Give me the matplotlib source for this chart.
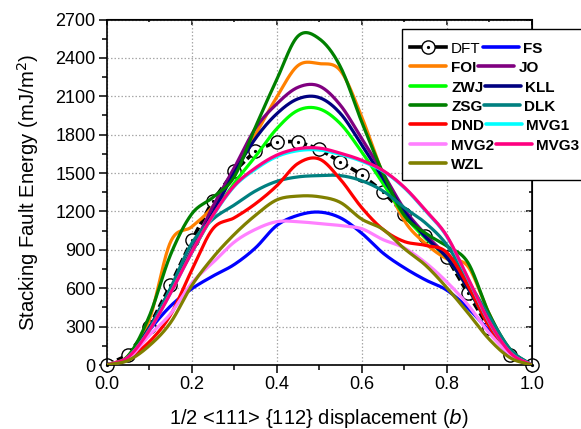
import numpy as np
import matplotlib
matplotlib.use("Agg")
import matplotlib.pyplot as plt
from matplotlib.lines import Line2D
from matplotlib.patches import Rectangle

plt.rcParams['font.family'] = ['Liberation Sans', 'DejaVu Sans']

# ---------------- data ----------------
x = [0.0, 0.05, 0.1, 0.15, 0.2, 0.25, 0.3, 0.35, 0.4, 0.45, 0.5,
     0.55, 0.6, 0.65, 0.7, 0.75, 0.8, 0.85, 0.9, 0.95, 1.0]

dft = [0, 78, 300, 623, 973, 1285, 1513, 1674, 1746, 1746, 1687,
       1588, 1487, 1355, 1183, 1011, 845, 560, 287, 78, 0]

fs   = [0, 50, 270, 460, 595, 695, 785, 915, 1090, 1170, 1195,
        1150, 1030, 875, 760, 665, 585, 445, 265, 75, 0]
foi  = [0, 70, 350, 960, 1080, 1240, 1500, 1800, 2093, 2340, 2355,
        2300, 1940, 1490, 1130, 950, 830, 770, 400, 90, 0]
jo   = [0, 60, 290, 590, 900, 1240, 1540, 1850, 2040, 2170, 2180,
        2030, 1770, 1500, 1220, 1020, 850, 620, 320, 90, 0]
zwj  = [0, 60, 290, 590, 880, 1170, 1420, 1630, 1846, 1990, 2002,
        1885, 1665, 1420, 1170, 990, 840, 600, 310, 90, 0]
kll  = [0, 60, 290, 590, 880, 1190, 1500, 1770, 1963, 2080, 2090,
        1965, 1720, 1460, 1200, 1000, 840, 600, 310, 90, 0]
zsg  = [0, 70, 380, 860, 1180, 1310, 1470, 1860, 2230, 2570, 2550,
        2330, 1900, 1500, 1170, 1030, 930, 800, 400, 120, 0]
dlk  = [0, 60, 280, 600, 950, 1140, 1250, 1360, 1435, 1470, 1480,
        1480, 1440, 1360, 1230, 1110, 940, 660, 380, 120, 0]
dnd  = [0, 55, 180, 390, 740, 1065, 1150, 1260, 1400, 1575, 1610,
        1450, 1230, 1060, 965, 935, 880, 620, 300, 85, 0]
mvg1 = [0, 60, 270, 560, 880, 1165, 1395, 1530, 1628, 1675, 1680,
        1645, 1592, 1515, 1385, 1205, 1005, 675, 335, 95, 0]
mvg2 = [0, 50, 230, 400, 640, 800, 960, 1060, 1120, 1120, 1105,
        1090, 1065, 980, 915, 800, 650, 470, 250, 80, 0]
mvg3 = [0, 60, 270, 560, 880, 1170, 1400, 1540, 1640, 1690, 1695,
        1655, 1600, 1520, 1390, 1210, 1010, 680, 340, 95, 0]
wzl  = [0, 35, 150, 330, 620, 840, 1020, 1170, 1290, 1320, 1315,
        1270, 1140, 1060, 910, 780, 605, 407, 201, 55, 0]

names  = ['FS', 'FOI', 'JO', 'ZWJ', 'KLL', 'ZSG', 'DLK', 'DND',
          'MVG1', 'MVG2', 'MVG3', 'WZL']
series = [fs, foi, jo, zwj, kll, zsg, dlk, dnd, mvg1, mvg2, mvg3, wzl]
colors = ['#0000FF', '#FF8000', '#800080', '#00FF00', '#000080', '#008000',
          '#008080', '#FF0000', '#00FFFF', '#FF80FF', '#FF0080', '#808000']

# legend rows as in the reference (two entries per row)
legend_rows = [('DFT', 'FS'), ('FOI', 'JO'), ('ZWJ', 'KLL'), ('ZSG', 'DLK'),
               ('DND', 'MVG1'), ('MVG2', 'MVG3'), ('WZL', None)]

x_ticks = [0.0, 0.2, 0.4, 0.6, 0.8, 1.0]
y_ticks = [0, 300, 600, 900, 1200, 1500, 1800, 2100, 2400, 2700]


def smooth(xs, ys, n=24):
    """Catmull-Rom curve through the given points (line rendering only)."""
    xs = np.asarray(xs, float)
    ys = np.asarray(ys, float)
    yp = np.concatenate([[2 * ys[0] - ys[1]], ys, [2 * ys[-1] - ys[-2]]])
    t = np.linspace(0, 1, n, endpoint=False)
    ox, oy = [], []
    for i in range(len(xs) - 1):
        p0, p1, p2, p3 = yp[i:i + 4]
        ox.append(xs[i] + t * (xs[i + 1] - xs[i]))
        oy.append(0.5 * (2 * p1 + (-p0 + p2) * t
                         + (2 * p0 - 5 * p1 + 4 * p2 - p3) * t ** 2
                         + (-p0 + 3 * p1 - 3 * p2 + p3) * t ** 3))
    ox.append([xs[-1]])
    oy.append([ys[-1]])
    return np.concatenate(ox), np.concatenate(oy)


W, H = 581, 429
fig = plt.figure(figsize=(W / 100, H / 100), dpi=100)
ax = fig.add_axes([106.7 / W, 1 - 365 / H, 425 / W, 345.5 / H])

color_of = dict(zip(names, colors))
for name, ys, c in zip(names, series, colors):
    sx, sy = smooth(x, ys)
    ax.plot(sx, sy, color=c, lw=2.3, solid_capstyle='round', zorder=3)

# DFT (drawn beneath the model curves)
ax.plot(x, dft, color='black', lw=2.6, dashes=(2.2, 1.0),
        marker='o', ms=9.5, mfc='white', mec='black', mew=1.0,
        zorder=2, clip_on=False)
ax.plot(x, dft, ls='none', marker='o', ms=1.3, color='black',
        zorder=2.1, clip_on=False)

ax.set_xlim(0, 1.0)
ax.set_ylim(0, 2700)
ax.set_xticks(x_ticks)
ax.set_xticklabels(['%.1f' % v for v in x_ticks])
ax.set_yticks(y_ticks)
ax.set_xticks(np.arange(0.1, 1.0, 0.2), minor=True)
ax.set_yticks(np.arange(150, 2700, 300), minor=True)
ax.grid(True, which='major', color='#a8a8a8', ls=(0, (1.2, 1.6)), lw=0.9)
ax.set_axisbelow(True)

ax.tick_params(axis='both', which='major', direction='out', length=6,
               width=1.1, labelsize=13, pad=2)
ax.tick_params(axis='both', which='minor', direction='out', length=3.5,
               width=1.1)
for s in ax.spines.values():
    s.set_linewidth(1.2)

# mirrored inward ticks on top and right
secx = ax.secondary_xaxis('top')
secx.set_xticks(x_ticks)
secx.set_xticks(np.arange(0.1, 1.0, 0.2), minor=True)
secx.tick_params(which='major', direction='in', length=4, width=1.1,
                 labeltop=False)
secx.tick_params(which='minor', direction='in', length=2.5, width=1.1)
secy = ax.secondary_yaxis('right')
secy.set_yticks(y_ticks)
secy.set_yticks(np.arange(150, 2700, 300), minor=True)
secy.tick_params(which='major', direction='in', length=4, width=1.1,
                 labelright=False)
secy.tick_params(which='minor', direction='in', length=2.5, width=1.1)

ax.set_ylabel('Stacking Fault Energy (mJ/m$^2$)', fontsize=14.6, labelpad=10)
ax.set_xlabel('1/2 <111> {112} displacement ($\\mathit{b}$)', fontsize=14.5,
              labelpad=10)

# ---------------- legend (flowing rows, like the original) ----------------
def fx(px):
    return px / W


def fy(py):
    return 1 - py / H


frame = Rectangle((fx(401.7), fy(180)), fx(640) - fx(401.7), fy(29) - fy(180),
                  transform=fig.transFigure, facecolor='white',
                  edgecolor='black', lw=1.0, zorder=10, clip_on=False)
fig.add_artist(frame)
renderer = fig.canvas.get_renderer()
row0, pitch = 46.7, 19.4
hlen = 36.0


def add_handle(name, x0, yc):
    if name == 'DFT':
        fig.add_artist(Line2D([fx(x0), fx(x0 + hlen)], [fy(yc), fy(yc)],
                              transform=fig.transFigure, color='black',
                              lw=2.6, zorder=11))
        fig.add_artist(Line2D([fx(x0 + hlen / 2)], [fy(yc)],
                              transform=fig.transFigure, ls='none',
                              marker='o', ms=9.5, mfc='white', mec='black',
                              mew=1.0, zorder=12))
        fig.add_artist(Line2D([fx(x0 + hlen / 2)], [fy(yc)],
                              transform=fig.transFigure, ls='none',
                              marker='o', ms=1.3, color='black', zorder=13))
    else:
        fig.add_artist(Line2D([fx(x0), fx(x0 + hlen)], [fy(yc), fy(yc)],
                              transform=fig.transFigure,
                              color=color_of[name], lw=2.6,
                              solid_capstyle='round', zorder=11))


def add_label(name, x0, yc):
    t = fig.text(fx(x0), fy(yc), name, ha='left', va='center_baseline',
                 fontsize=11, fontweight='normal' if name == 'DFT' else 'bold',
                 zorder=14)
    return t.get_window_extent(renderer).x1


for i, (a, b) in enumerate(legend_rows):
    yc = row0 + i * pitch
    add_handle(a, 409.5, yc)
    xend = add_label(a, 451.0, yc + 0.5)
    if b is not None:
        x2 = xend + 2.0
        add_handle(b, x2, yc)
        add_label(b, x2 + hlen + 4.0, yc + 0.5)

fig.savefig('out.png', dpi=100)
